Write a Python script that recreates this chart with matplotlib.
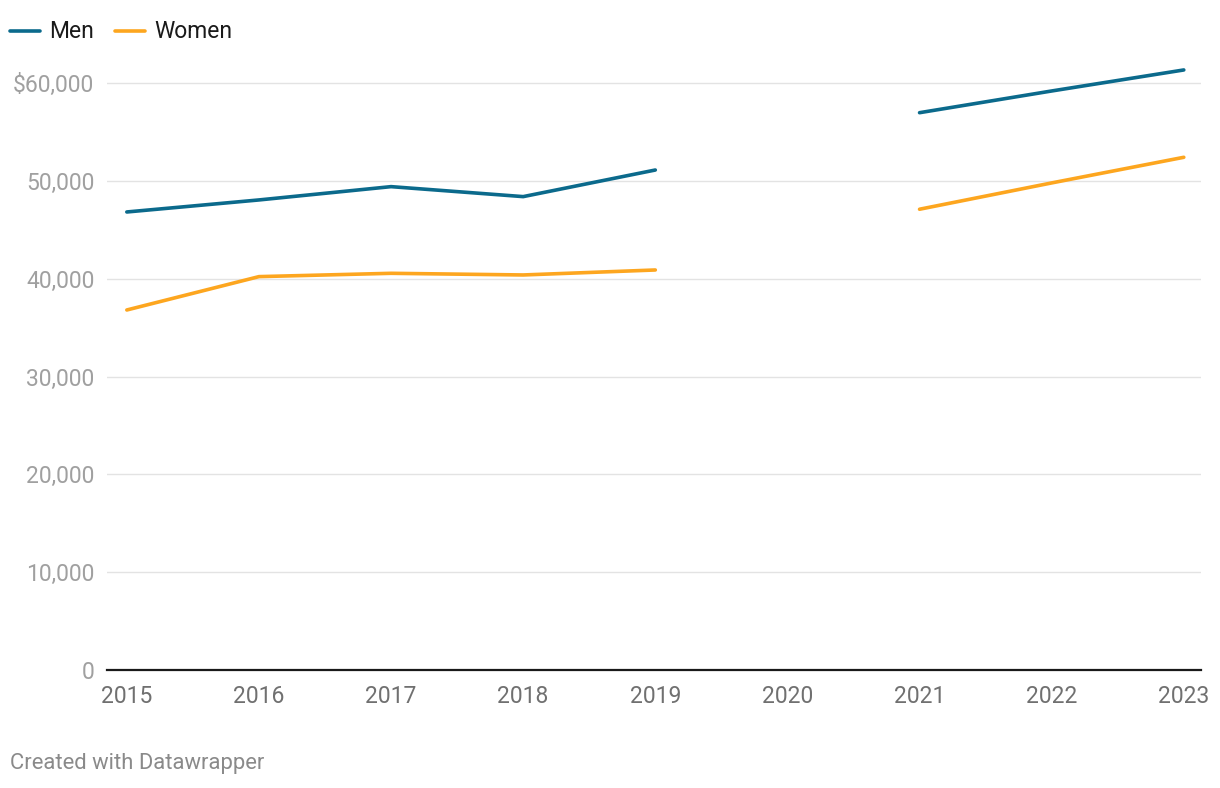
import numpy as np
import matplotlib.pyplot as plt
from matplotlib.lines import Line2D
from matplotlib.ticker import FuncFormatter

plt.rcParams['font.family'] = ['Roboto', 'DejaVu Sans']

years = [2015, 2016, 2017, 2018, 2019, 2020, 2021, 2022, 2023]
men = [46830, 48060, 49420, 48400, 51120, np.nan, 56980, 59200, 61350]
women = [36810, 40220, 40560, 40390, 40900, np.nan, 47110, 49800, 52420]
yticks = [0, 10000, 20000, 30000, 40000, 50000, 60000]

men_color = '#0b6a8c'
women_color = '#fda61f'

fig = plt.figure(figsize=(12.2, 7.88), dpi=100)
ax = fig.add_axes([0.0877, 0.1497, 0.8967, 0.7696])

ax.plot(years, men, color=men_color, lw=2.6, solid_capstyle='round', zorder=3)
ax.plot(years, women, color=women_color, lw=2.6, solid_capstyle='round', zorder=3)

ax.set_xlim(2014.85, 2023.13)
ax.set_ylim(0, 62000)
ax.set_xticks(years)
ax.set_yticks(yticks)

def fmt(v, pos):
    s = f'{int(v):,}'
    if v == max(yticks):
        s = '$' + s
    return s

ax.yaxis.set_major_formatter(FuncFormatter(fmt))
ax.grid(axis='y', color='#e3e3e3', lw=1)
ax.set_axisbelow(True)
for s in ['top', 'right', 'left']:
    ax.spines[s].set_visible(False)
ax.spines['bottom'].set_color('#1a1a1a')
ax.spines['bottom'].set_linewidth(1.6)
ax.spines['bottom'].set_zorder(4)
ax.tick_params(axis='y', length=0, pad=9, labelsize=16.5, labelcolor='#a0a0a0')
ax.tick_params(axis='x', length=0, pad=11, labelsize=16.5, labelcolor='#707070')

# legend
ly = 1 - 31 / 788
fig.add_artist(Line2D([10 / 1220, 40 / 1220], [ly] * 2, color=men_color, lw=2.6, solid_capstyle='round'))
fig.text(49 / 1220, ly, 'Men', fontsize=16.5, color='#1a1a1a', va='center')
fig.add_artist(Line2D([115 / 1220, 145 / 1220], [ly] * 2, color=women_color, lw=2.6, solid_capstyle='round'))
fig.text(154 / 1220, ly, 'Women', fontsize=16.5, color='#1a1a1a', va='center')

fig.text(10 / 1220, 1 - 763 / 788, 'Created with Datawrapper', fontsize=15.8, color='#8a8a8a', va='center')

fig.savefig('out.png', dpi=100, facecolor='white')
